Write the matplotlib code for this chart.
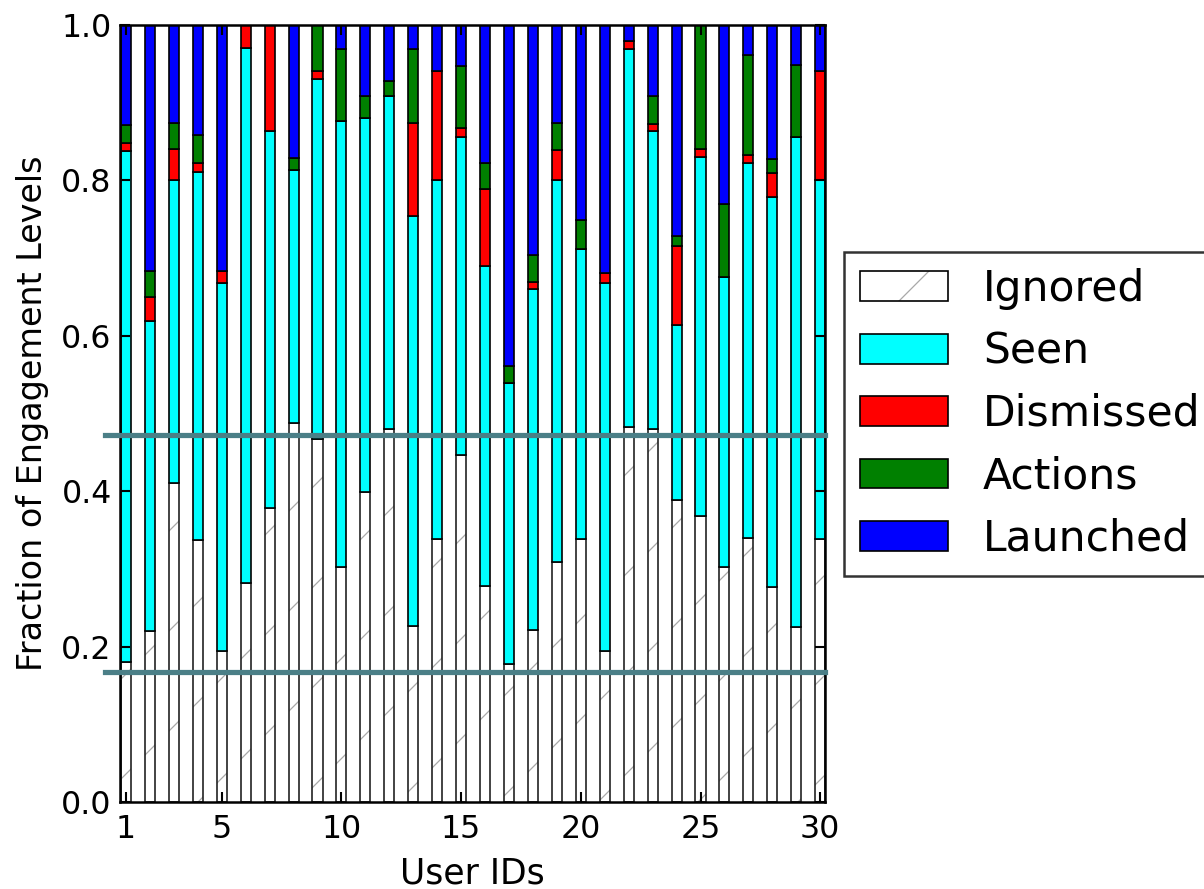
import matplotlib
matplotlib.use("Agg")
import matplotlib.pyplot as plt
from matplotlib.patches import Patch
import numpy as np

# per-user fractions (bottom to top of each stack)
user_ids = list(range(1, 31))
ignored = [0.180, 0.220, 0.411, 0.337, 0.194, 0.282, 0.379, 0.488, 0.467, 0.302,
           0.399, 0.480, 0.227, 0.338, 0.447, 0.278, 0.178, 0.221, 0.309, 0.338,
           0.194, 0.482, 0.480, 0.389, 0.368, 0.302, 0.340, 0.277, 0.225, 0.339]
seen = [0.658, 0.399, 0.389, 0.474, 0.474, 0.688, 0.485, 0.326, 0.464, 0.574,
        0.481, 0.428, 0.527, 0.463, 0.409, 0.412, 0.361, 0.439, 0.491, 0.374,
        0.474, 0.487, 0.384, 0.225, 0.462, 0.374, 0.482, 0.502, 0.631, 0.462]
dismissed = [0.010, 0.031, 0.041, 0.011, 0.015, 0.030, 0.136, 0.000, 0.010, 0.000,
             0.000, 0.000, 0.120, 0.140, 0.011, 0.099, 0.000, 0.009, 0.039, 0.000,
             0.013, 0.010, 0.009, 0.101, 0.011, 0.000, 0.011, 0.030, 0.000, 0.140]
actions = [0.023, 0.034, 0.033, 0.037, 0.000, 0.000, 0.000, 0.015, 0.059, 0.093,
           0.028, 0.020, 0.095, 0.000, 0.080, 0.033, 0.022, 0.035, 0.035, 0.037,
           0.000, 0.000, 0.035, 0.013, 0.159, 0.093, 0.128, 0.019, 0.093, 0.000]
launched = [0.129, 0.316, 0.126, 0.141, 0.317, 0.000, 0.000, 0.171, 0.000, 0.031,
            0.092, 0.072, 0.031, 0.059, 0.053, 0.178, 0.439, 0.296, 0.126, 0.251,
            0.319, 0.021, 0.092, 0.272, 0.000, 0.231, 0.039, 0.172, 0.051, 0.059]

xticks = [1, 5, 10, 15, 20, 25, 30]
guide_levels = [0.472, 0.167]

plt.rcParams['font.family'] = 'DejaVu Sans'
plt.rcParams['hatch.linewidth'] = 0.3

DPI = 300
fig = plt.figure(figsize=(1204 / DPI, 889 / DPI), dpi=DPI)
ax = fig.add_axes([120 / 1204, 1 - 802 / 889, 705 / 1204, 777 / 889])

x = np.array(user_ids)
w = 0.42
lw = 0.4

# ignored: hatch layer then outline
hatch_bars = ax.bar(x, ignored, w, color='white', edgecolor='#a8a8a8', hatch='/', linewidth=0)
outline_bars = ax.bar(x, ignored, w, color='none', edgecolor='#222222', linewidth=lw)

bottom = np.array(ignored)
containers = []
for vals, col, lab in [(seen, 'cyan', 'Seen'), (dismissed, 'red', 'Dismissed'),
                       (actions, 'green', 'Actions'), (launched, 'blue', 'Launched')]:
    b = ax.bar(x, vals, w, bottom=bottom, color=col, edgecolor='black', linewidth=lw, label=lab)
    containers.append(b)
    bottom = bottom + np.array(vals)

for lvl in guide_levels:
    ax.axhline(lvl, xmin=-0.021, xmax=1.0, color='#4b7f87', lw=1.25, clip_on=False, zorder=5)

ax.set_xlim(0.75, 30.2)
ax.set_ylim(0, 1.0)
ax.set_xticks(xticks)
ax.set_yticks([0.0, 0.2, 0.4, 0.6, 0.8, 1.0])
ax.set_yticklabels(['0.0', '0.2', '0.4', '0.6', '0.8', '1.0'])
ax.tick_params(direction='in', top=True, right=True, length=2.5, width=0.5,
               labelsize=7.6, pad=2)
ax.tick_params(axis='x', pad=3)
for s in ax.spines.values():
    s.set_linewidth(0.6)

ax.set_xlabel('User IDs', fontsize=8.3, labelpad=2.6)
ax.set_ylabel('Fraction of Engagement Levels', fontsize=8.0, labelpad=3)

ign_h = (Patch(facecolor='white', edgecolor='#a8a8a8', hatch='/', linewidth=0),
         Patch(facecolor='none', edgecolor='black', linewidth=lw))
handles = [ign_h] + [c.patches[0] for c in containers]
labels = ['Ignored', 'Seen', 'Dismissed', 'Actions', 'Launched']
leg = fig.legend(handles, labels, loc='upper left',
                 bbox_to_anchor=(844 / 1204, 1 - 252 / 889),
                 fontsize=10.2, frameon=True, fancybox=False,
                 handlelength=2.07, handleheight=0.7, handletextpad=0.82,
                 labelspacing=0.48, borderpad=0.38, borderaxespad=0)
leg.get_frame().set_edgecolor('black')
leg.get_frame().set_linewidth(0.6)

fig.savefig('out.png', dpi=DPI)
